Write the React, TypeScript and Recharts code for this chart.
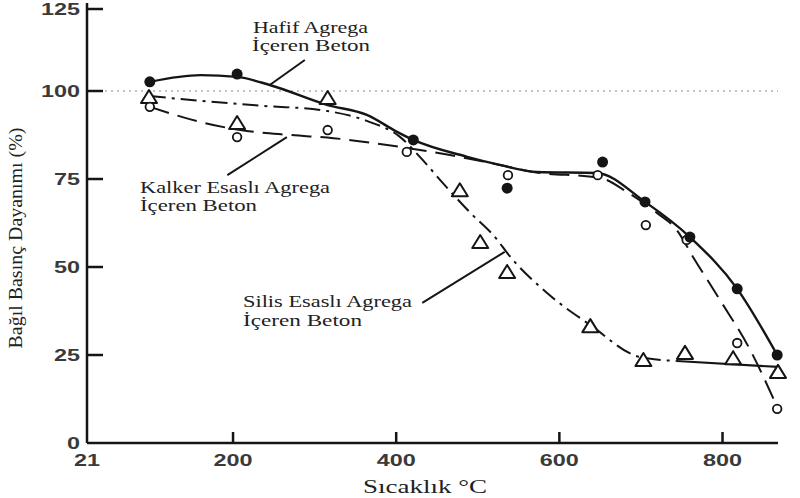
import { ComposedChart, Line, Scatter, XAxis, YAxis, ReferenceLine } from "recharts";

const xTicks = [21, 200, 400, 600, 800];
const yTicks = [0, 25, 50, 75, 100, 125];

// measured points (temperature °C, relative strength %)
const hafifTemp = [98, 205, 421, 536, 653, 705, 760, 818, 867];
const hafifStr = [102.6, 104.8, 86.1, 72.4, 79.8, 68.5, 58.5, 43.8, 25];

const kalkerTemp = [98, 205, 316, 413, 537, 647, 706, 756, 818, 867];
const kalkerStr = [95.5, 86.9, 88.9, 82.7, 76.1, 76.1, 61.9, 57.7, 28.4, 9.7];

const silisTemp = [97, 205, 316, 478, 503, 536, 638, 703, 754, 813, 868];
const silisStr = [98.3, 90.9, 98, 71.8, 57.1, 48.6, 33.2, 23.6, 25.6, 24.1, 20.2];

// fitted curves as drawn in the figure
const hafifCurveT = [98, 160, 205, 245, 316, 364, 401, 421, 487, 527, 573, 646, 705, 760, 818, 867];
const hafifCurveS = [102.6, 104.5, 104.0, 101.7, 96.0, 93.2, 88.4, 86.1, 81.3, 79.0, 77.0, 76.7, 68.5, 58.5, 43.8, 25];

const kalkerCurveT = [98, 160, 209, 270, 323, 405, 466, 527, 568, 650, 683, 720, 744, 764, 797, 834, 867];
const kalkerCurveS = [95.5, 91.2, 88.9, 87.5, 86.6, 84.1, 81.8, 79.0, 77.0, 75.3, 71.3, 65.3, 60.5, 52.8, 40.6, 26.4, 10.2];

const silisCurveT = [98, 160, 242, 307, 364, 405, 429, 457, 490, 524, 536, 585, 638, 699, 744];
const silisCurveS = [98.6, 97.2, 95.7, 94.6, 91.5, 86.9, 81.3, 73.9, 65.6, 57.7, 54.0, 42.6, 33.5, 24.4, 23.3];

const silisTailT = [744, 868];
const silisTailS = [23.3, 21.6];

const zip = (t: number[], s: number[]) => t.map((x, i) => ({ x, y: s[i] }));

const hafifPts = zip(hafifTemp, hafifStr);
const kalkerPts = zip(kalkerTemp, kalkerStr);
const silisPts = zip(silisTemp, silisStr);
const hafifCurve = zip(hafifCurveT, hafifCurveS);
const kalkerCurve = zip(kalkerCurveT, kalkerCurveS);
const silisCurve = zip(silisCurveT, silisCurveS);
const silisTail = zip(silisTailT, silisTailS);

const INK = "#151515";

const FilledDot = (p: any) => <circle cx={p.cx} cy={p.cy} r={5.5} fill={INK} />;
const OpenDot = (p: any) => (
  <circle cx={p.cx} cy={p.cy} r={4.3} fill="#fff" stroke={INK} strokeWidth={1.8} />
);
const Tri = (p: any) => (
  <polygon
    points={`${p.cx - 8},${p.cy + 6} ${p.cx},${p.cy - 7} ${p.cx + 8},${p.cy + 6}`}
    fill="#fff"
    stroke={INK}
    strokeWidth={2}
    strokeLinejoin="round"
  />
);

const YTick = (p: any) => {
  const v = p.payload.value;
  const s = String(v);
  return (
    <g>
      {v !== 0 && <line x1={p.x} x2={p.x + 16} y1={p.y} y2={p.y} stroke={INK} strokeWidth={2.5} />}
      <text
        x={p.x - 7}
        y={p.y + 6}
        textAnchor="end"
        fontFamily="Liberation Sans, Arial, sans-serif"
        fontWeight="bold"
        fontSize={16}
        fill="#3a3a3a"
        textLength={s.length * 13}
        lengthAdjust="spacingAndGlyphs"
      >
        {s}
      </text>
    </g>
  );
};

const XTick = (p: any) => {
  const v = p.payload.value;
  const s = String(v);
  return (
    <g>
      {v !== 21 && <line x1={p.x} x2={p.x} y1={p.y} y2={p.y - 11} stroke={INK} strokeWidth={2.5} />}
      <text
        x={p.x}
        y={p.y + 23}
        textAnchor="middle"
        fontFamily="Liberation Sans, Arial, sans-serif"
        fontWeight="bold"
        fontSize={16}
        fill="#3a3a3a"
        textLength={s.length * 13}
        lengthAdjust="spacingAndGlyphs"
      >
        {s}
      </text>
    </g>
  );
};

const serif = "Liberation Serif, Times New Roman, serif";

function Note({ x, y, w, text, size = 17 }: { x: number; y: number; w: number; text: string; size?: number }) {
  return (
    <text x={x} y={y} fontFamily={serif} fontSize={size} fill="#222" textLength={w} lengthAdjust="spacingAndGlyphs">
      {text}
    </text>
  );
}

export default function App() {
  return (
    <div style={{ position: "absolute", left: 0, top: 0, width: 800, height: 498, background: "#fff" }}>
      <ComposedChart width={800} height={498} margin={{ top: 3, right: 22, bottom: 0, left: 0 }}>
        <XAxis
          dataKey="x"
          type="number"
          domain={[21, 868]}
          ticks={xTicks}
          height={55}
          tickSize={0}
          tickMargin={0}
          tickLine={false}
          tick={<XTick />}
          axisLine={{ stroke: INK, strokeWidth: 2.5 }}
        />
        <YAxis
          dataKey="y"
          type="number"
          domain={[0, 125]}
          ticks={yTicks}
          width={87}
          tickSize={0}
          tickMargin={0}
          tickLine={false}
          tick={<YTick />}
          axisLine={{ stroke: INK, strokeWidth: 2.5 }}
        />
        <ReferenceLine y={100} stroke="#888" strokeWidth={1.2} strokeDasharray="2 4" />

        <ReferenceLine segment={[{ x: 288, y: 108.8 }, { x: 245, y: 101.7 }]} stroke={INK} strokeWidth={2} />
        <ReferenceLine segment={[{ x: 193, y: 76.1 }, { x: 266, y: 86.9 }]} stroke={INK} strokeWidth={2} />
        <ReferenceLine segment={[{ x: 432, y: 39.8 }, { x: 533, y: 54.3 }]} stroke={INK} strokeWidth={2} />

        <Line data={kalkerCurve} dataKey="y" type="monotone" stroke={INK} strokeWidth={2} strokeDasharray="20 9" dot={false} activeDot={false} isAnimationActive={false} />
        <Line data={silisCurve} dataKey="y" type="monotone" stroke={INK} strokeWidth={2} strokeDasharray="16 6 3 6" dot={false} activeDot={false} isAnimationActive={false} />
        <Line data={silisTail} dataKey="y" type="linear" stroke={INK} strokeWidth={2.2} dot={false} activeDot={false} isAnimationActive={false} />
        <Line data={hafifCurve} dataKey="y" type="monotone" stroke={INK} strokeWidth={2.4} dot={false} activeDot={false} isAnimationActive={false} />

        <Scatter data={silisPts} dataKey="y" shape={Tri} isAnimationActive={false} />
        <Scatter data={kalkerPts} dataKey="y" shape={OpenDot} isAnimationActive={false} />
        <Scatter data={hafifPts} dataKey="y" shape={FilledDot} isAnimationActive={false} />
      </ComposedChart>

      <svg width={800} height={498} style={{ position: "absolute", left: 0, top: 0, pointerEvents: "none" }}>
        <Note x={253} y={33} w={115} text="Hafif Agrega" />
        <Note x={252} y={51} w={118} text="İçeren Beton" />
        <Note x={140} y={193} w={190} text="Kalker Esaslı Agrega" />
        <Note x={140} y={211} w={117} text="İçeren Beton" />
        <Note x={243} y={307} w={169} text="Silis Esaslı Agrega" />
        <Note x={243} y={326} w={119} text="İçeren Beton" />
        <text
          transform="translate(22,238) rotate(-90)"
          textAnchor="middle"
          fontFamily={serif}
          fontSize={18}
          fill="#222"
          textLength={221}
          lengthAdjust="spacingAndGlyphs"
        >
          Bağıl Basınç Dayanımı (%)
        </text>
        <Note x={363} y={493} w={124} size={18} text="Sıcaklık °C" />
      </svg>
    </div>
  );
}
